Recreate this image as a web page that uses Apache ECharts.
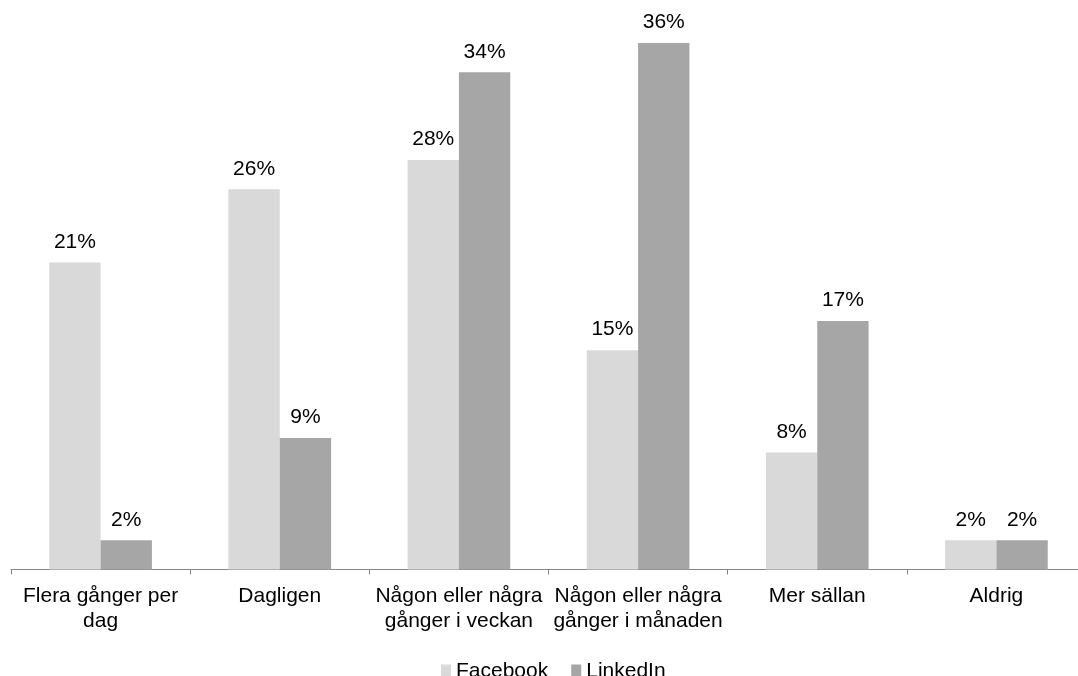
<!DOCTYPE html>
<html>
<head>
<meta charset="utf-8">
<script src="https://cdn.jsdelivr.net/npm/echarts@6/dist/echarts.min.js"></script>
<style>
  html, body { margin: 0; padding: 0; background: #ffffff; }
  #chart { width: 1078px; height: 676px; }
</style>
</head>
<body>
<div id="chart"></div>
<script>
// How often people use each network (share of respondents, %)
const categories = [
  'Flera gånger per\ndag',
  'Dagligen',
  'Någon eller några\ngånger i veckan',
  'Någon eller några\ngånger i månaden',
  'Mer sällan',
  'Aldrig'
];
const facebook = [21, 26, 28, 15, 8, 2];
const linkedin = [2, 9, 34, 36, 17, 2];
const seriesNames = ['Facebook', 'LinkedIn'];

const FONT = '"Liberation Sans", Arial, Helvetica, sans-serif';

const chart = echarts.init(document.getElementById('chart'), null, { renderer: 'canvas' });

const labelStyle = {
  show: true,
  position: 'top',
  distance: 10,
  formatter: '{c}%',
  color: '#000000',
  fontFamily: FONT,
  fontSize: 21
};

chart.setOption({
  animation: false,
  backgroundColor: '#ffffff',
  grid: {
    left: 11, top: 43, width: 1075, height: 526.5,
    containLabel: false,
    outerBoundsMode: 'none'
  },
  legend: {
    data: seriesNames,
    left: 436,
    top: 656,
    padding: 5,
    icon: 'rect',
    itemWidth: 10,
    itemHeight: 14,
    itemGap: 23,
    textStyle: { color: '#000000', fontFamily: FONT, fontSize: 21 }
  },
  xAxis: {
    type: 'category',
    data: categories,
    axisLine: { show: true, lineStyle: { color: '#868686', width: 1 } },
    axisTick: { show: true, length: 5, lineStyle: { color: '#868686' } },
    axisLabel: {
      interval: 0,
      margin: 14,
      color: '#000000',
      fontFamily: FONT,
      fontSize: 21,
      lineHeight: 25
    }
  },
  yAxis: {
    type: 'value',
    min: 0,
    max: 36,
    show: false,
    splitLine: { show: false }
  },
  series: [
    {
      name: seriesNames[0],
      type: 'bar',
      data: facebook,
      barGap: '0%',
      barCategoryGap: '42.7%',
      itemStyle: { color: '#d9d9d9' },
      label: labelStyle
    },
    {
      name: seriesNames[1],
      type: 'bar',
      data: linkedin,
      barGap: '0%',
      barCategoryGap: '42.7%',
      itemStyle: { color: '#a6a6a6' },
      label: labelStyle
    }
  ]
});
</script>
</body>
</html>
